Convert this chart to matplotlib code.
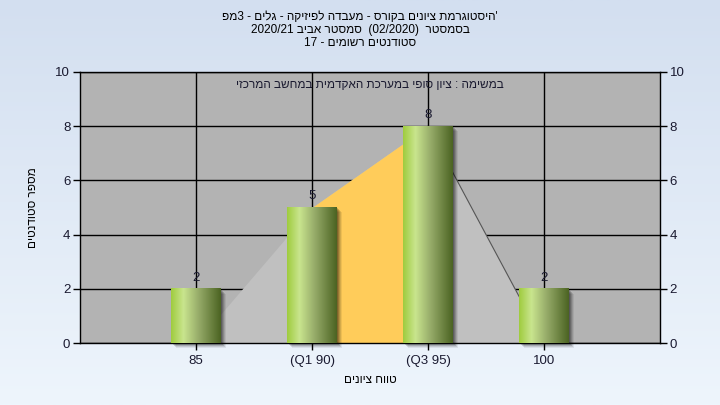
import numpy as np
import matplotlib
matplotlib.use("Agg")
import matplotlib.pyplot as plt
import matplotlib.transforms as mtransforms
from matplotlib.colors import LinearSegmentedColormap

plt.rcParams['font.family'] = ['Liberation Sans', 'DejaVu Sans']

# ---- data ----
categories = ["85", "(Q1 90)", "(Q3 95)", "100"]
counts = [2, 5, 8, 2]
area_values = [0, 5, 8, 0]
y_ticks = [0, 2, 4, 6, 8, 10]
title_lines = ["'היסטוגרמת ציונים בקורס - מעבדה לפיזיקה - גלים - 3מפ",
               "בסמסטר  (02/2020)  סמסטר אביב 2020/21",
               "סטודנטים רשומים - 17"]
subtitle = "במשימה : ציון סופי במערכת האקדמית במחשב המרכזי"
xlabel = "טווח ציונים"
ylabel = "מספר סטודנטים"


def bidi(s):
    """Minimal RTL-paragraph bidi reordering to visual order."""
    n = len(s)
    t = []
    for ch in s:
        if '\u0590' <= ch <= '\u05FF':
            t.append('R')
        elif ch.isalpha():
            t.append('L')
        elif ch.isdigit():
            t.append('EN')
        elif ch in '/.,:':
            t.append('CS')
        else:
            t.append('N')
    for i in range(1, n - 1):
        if t[i] == 'CS' and t[i - 1] == 'EN' and t[i + 1] == 'EN':
            t[i] = 'EN'
    t = ['N' if x == 'CS' else x for x in t]
    last = 'R'
    for i in range(n):
        if t[i] in ('L', 'R'):
            last = t[i]
        elif t[i] == 'EN' and last == 'L':
            t[i] = 'L'
    i = 0
    while i < n:
        if t[i] == 'N':
            j = i
            while j < n and t[j] == 'N':
                j += 1
            left = 'R' if i == 0 else ('R' if t[i - 1] in ('R', 'EN') else 'L')
            right = 'R' if j == n else ('R' if t[j] in ('R', 'EN') else 'L')
            d = left if left == right else 'R'
            for k in range(i, j):
                t[k] = d
            i = j
        else:
            i += 1
    levels = [1 if x == 'R' else 2 for x in t]
    mirror = {'(': ')', ')': '(', '[': ']', ']': '[', '<': '>', '>': '<'}
    chars = [mirror.get(c, c) if lv == 1 else c for c, lv in zip(s, levels)]
    out = []
    i = 0
    while i < n:
        j = i
        while j < n and (levels[j] >= 2) == (levels[i] >= 2):
            j += 1
        seg = chars[i:j]
        if levels[i] >= 2:
            seg = seg[::-1]
        out.extend(seg)
        i = j
    return ''.join(out[::-1])


fig = plt.figure(figsize=(7.2, 4.05), dpi=100)

# background gradient
bg = fig.add_axes([0, 0, 1, 1], zorder=-10)
grad = np.linspace(0, 1, 256).reshape(-1, 1)
bg_cmap = LinearSegmentedColormap.from_list("bg", ["#d3dff0", "#eef5fc"])
bg.imshow(grad, aspect='auto', cmap=bg_cmap, extent=[0, 1, 0, 1], origin='upper')
bg.set_axis_off()

ax = fig.add_axes([80/720, 62/405, 580/720, 271/405])
ax.set_facecolor("#b3b3b3")
x = np.arange(len(categories))

# grid
ax.set_axisbelow(True)
ax.grid(True, color="black", linewidth=1.0)

# area
ax.fill_between(x, area_values, color="#c0c0c0", zorder=1, linewidth=0)
ax.fill_between(x[1:3], area_values[1:3], color="#ffcc5a", zorder=1.1, linewidth=0)
ax.plot(x[2:4], area_values[2:4], color="#555555", linewidth=0.8, zorder=1.2)

# bars with gradient
bar_w = 0.43
bar_cmap = LinearSegmentedColormap.from_list(
    "bar", [(0.0, "#9fcc3e"), (0.25, "#c9e58e"), (0.55, "#97ac6a"), (1.0, "#4b6322")])
hgrad = np.linspace(0, 1, 256).reshape(1, -1)
for xi, c in zip(x, counts):
    for k, a in zip(range(1, 6), [0.18, 0.16, 0.14, 0.1, 0.07]):
        tr = mtransforms.offset_copy(ax.transData, fig=fig, x=k, y=-k, units='dots')
        ax.add_patch(plt.Rectangle((xi - bar_w/2, 0), bar_w, c, transform=tr,
                                   facecolor="black", alpha=a, linewidth=0, zorder=2.5,
                                   clip_on=False))
    ax.imshow(hgrad, aspect='auto', cmap=bar_cmap,
              extent=[xi - bar_w/2, xi + bar_w/2, 0, c], zorder=3)
    ax.annotate(str(c), (xi, c), xytext=(0, 8), textcoords='offset points',
                ha='center', va='center', fontsize=9.5, color="#1a1a30", zorder=5)

ax.set_xlim(-1, 4)
ax.set_ylim(0, 10)
ax.set_xticks(x)
ax.set_xticklabels(categories)
ax.set_yticks(y_ticks)
ax.tick_params(axis='both', direction='out', length=5, width=1, color='black',
               labelsize=9.5, labelcolor="#1a1a30")
ax.tick_params(axis='y', left=True, right=True, labelleft=True, labelright=True, pad=2)
for s in ax.spines.values():
    s.set_color("black")
    s.set_linewidth(1)

ax.text(0.5, 1 - 13/271, bidi(subtitle), transform=ax.transAxes, ha='center',
        va='center', fontsize=8.5, color="#1a1a30", zorder=6)

ax.set_xlabel(bidi(xlabel), fontsize=8.5, color="black", labelpad=5)
fig.text(33/720, 1 - 208/405, bidi(ylabel), rotation=90, ha='center', va='center',
         fontsize=8.5, color="black")

for i, line in enumerate(title_lines):
    fig.text(0.5, 1 - (17 + 13*i)/405, bidi(line), ha='center', va='center',
             fontsize=8.5, color="black")

fig.savefig("out.png", dpi=100)
